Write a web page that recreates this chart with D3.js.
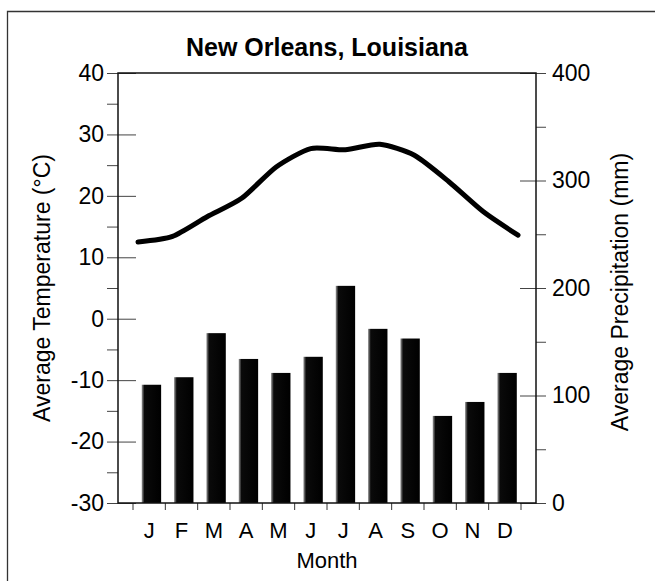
<!DOCTYPE html>
<html>
<head>
<meta charset="utf-8">
<script src="https://cdn.jsdelivr.net/npm/d3@7"></script>
<style>
  body { margin: 0; background: #fff; }
  svg { display: block; font-family: "Liberation Sans", Arial, Helvetica, sans-serif; }
</style>
</head>
<body>
<svg id="chart" width="655" height="581"></svg>
<script>
// monthly climate normals
var months = ['J', 'F', 'M', 'A', 'M ', 'J ', 'J  ', 'A ', 'S', 'O', 'N', 'D'];
var monthLabels = ['J', 'F', 'M', 'A', 'M', 'J', 'J', 'A', 'S', 'O', 'N', 'D'];
var temperature = [12.5, 13.4, 16.6, 19.6, 24.7, 27.7, 27.5, 28.4, 26.6, 22.3, 17.4, 13.6];
var precipitation = [110, 117, 158, 134, 121, 136, 202, 162, 153, 81, 94, 121];
var tempTicks = [-30, -20, -10, 0, 10, 20, 30, 40];
var precipTicks = [0, 100, 200, 300, 400];

var title = 'New Orleans, Louisiana';

var svg = d3.select('#chart');

// note: "top" is taken by window.top, so the box edges get a prefix
var boxLeft = 118, boxRight = 536, boxTop = 73, boxBottom = 503;

// outer frame of the figure (runs off the right and bottom edge)
svg.append('path')
    .attr('d', 'M 7.5 581 V 11.5 H 655')
    .attr('fill', 'none')
    .attr('stroke', '#333')
    .attr('stroke-width', 1.3);

var x = d3.scaleBand()
    .domain(months)
    .range([133, 521])
    .padding(0);

var xLine = d3.scalePoint()
    .domain(months)
    .range([138, 518]);

var yT = d3.scaleLinear().domain([-30, 40]).range([boxBottom, boxTop]);
var yP = d3.scaleLinear().domain([0, 400]).range([boxBottom, boxTop]);

// ragged light left edge on the bars, like the printed texture
var grad = svg.append('defs').append('linearGradient')
    .attr('id', 'barfill')
    .attr('x1', '0').attr('x2', '1');
grad.append('stop').attr('offset', '0').attr('stop-color', '#999');
grad.append('stop').attr('offset', '0.14').attr('stop-color', '#0a0a0a');
grad.append('stop').attr('offset', '1').attr('stop-color', '#000');

var step = x.step();

svg.append('g')
    .selectAll('rect')
    .data(precipitation)
    .enter().append('rect')
    .attr('x', function(d, i) { return x(months[i]) + step * 0.27; })
    .attr('width', step * 0.6)
    .attr('y', function(d) { return yP(d); })
    .attr('height', function(d) { return boxBottom - yP(d); })
    .attr('fill', 'url(#barfill)');

var line = d3.line()
    .x(function(d, i) { return xLine(months[i]); })
    .y(function(d) { return yT(d); })
    .curve(d3.curveCardinal.tension(0.3));

svg.append('path')
    .datum(temperature)
    .attr('d', line)
    .attr('fill', 'none')
    .attr('stroke', '#000')
    .attr('stroke-width', 5)
    .attr('stroke-linecap', 'round');

var fmt = function(d) { return tempTicks.indexOf(d) >= 0 ? String(d) : ''; };

// left axis: labels + outer ticks every 5
svg.append('g')
    .attr('transform', 'translate(' + boxLeft + ',0)')
    .call(d3.axisLeft(yT).tickValues(d3.range(-30, 41, 5)).tickSize(11).tickPadding(3).tickFormat(fmt));
// inner ticks on the major values
svg.append('g')
    .attr('transform', 'translate(' + boxLeft + ',0)')
    .call(d3.axisRight(yT).tickValues(tempTicks).tickSize(18).tickFormat(''));

var fmtP = function(d) { return precipTicks.indexOf(d) >= 0 ? String(d) : ''; };

svg.append('g')
    .attr('transform', 'translate(' + boxRight + ',0)')
    .call(d3.axisRight(yP).tickValues(d3.range(0, 401, 50)).tickSize(10).tickPadding(6).tickFormat(fmtP));
svg.append('g')
    .attr('transform', 'translate(' + boxRight + ',0)')
    .call(d3.axisLeft(yP).tickValues(precipTicks).tickSize(16).tickFormat(''));

// bottom ticks sit on the month boundaries
var bounds = months.map(function(m) { return x(m); }).concat([x.range()[1]]);
svg.append('g')
    .selectAll('line')
    .data(bounds)
    .enter().append('line')
    .attr('x1', function(d) { return d; })
    .attr('x2', function(d) { return d; })
    .attr('y1', boxBottom)
    .attr('y2', boxBottom + 7)
    .attr('stroke', '#333');

svg.selectAll('.domain').remove();
svg.selectAll('.tick line').attr('stroke', '#444').attr('stroke-width', 1);
svg.selectAll('.tick text')
    .attr('font-size', 23)
    .attr('font-family', '"Liberation Sans", Arial, sans-serif')
    .attr('fill', '#000');

// plot box
svg.append('rect')
    .attr('x', boxLeft).attr('y', boxTop)
    .attr('width', boxRight - boxLeft).attr('height', boxBottom - boxTop)
    .attr('fill', 'none')
    .attr('stroke', '#111')
    .attr('stroke-width', 1.5);

svg.append('g')
    .selectAll('text')
    .data(monthLabels)
    .enter().append('text')
    .attr('x', function(d, i) { return x(months[i]) + step / 2; })
    .attr('y', 538)
    .attr('text-anchor', 'middle')
    .attr('font-size', 22)
    .text(function(d) { return d; });

svg.append('text')
    .attr('x', 327)
    .attr('y', 568)
    .attr('text-anchor', 'middle')
    .attr('font-size', 22)
    .text('Month');

svg.append('text')
    .attr('x', 327)
    .attr('y', 56)
    .attr('text-anchor', 'middle')
    .attr('font-size', 25)
    .attr('font-weight', 'bold')
    .text(title);

svg.append('text')
    .attr('transform', 'translate(50,288) rotate(-90)')
    .attr('text-anchor', 'middle')
    .attr('font-size', 23)
    .text('Average Temperature (°C)');

svg.append('text')
    .attr('transform', 'translate(628,292) rotate(-90)')
    .attr('text-anchor', 'middle')
    .attr('font-size', 23)
    .text('Average Precipitation (mm)');
</script>
</body>
</html>
